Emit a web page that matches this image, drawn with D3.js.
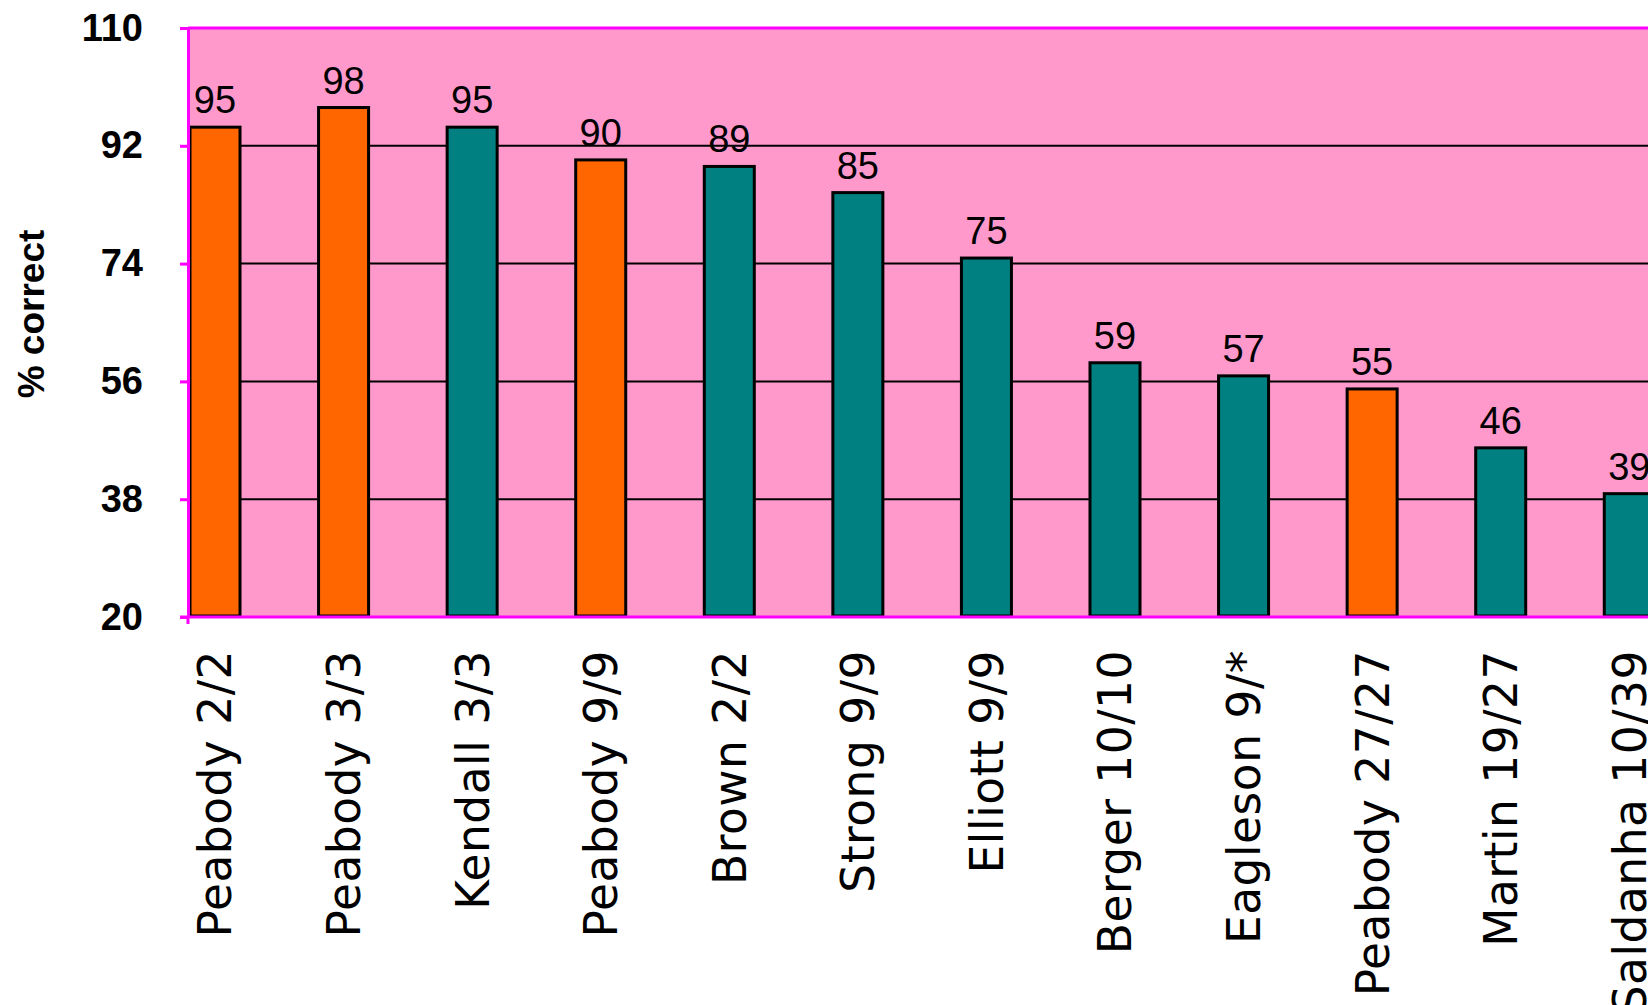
<!DOCTYPE html>
<html>
<head>
<meta charset="utf-8">
<script src="https://cdn.jsdelivr.net/npm/d3@7"></script>
<style>
  html, body { margin: 0; padding: 0; background: #ffffff; overflow: hidden; }
  svg { display: block; }
</style>
</head>
<body>
<svg id="chart" width="1648" height="1005"></svg>
<script>
// ---- data ----
const categories = ["Peabody 2/2", "Peabody 3/3", "Kendall 3/3", "Peabody 9/9", "Brown 2/2", "Strong 9/9",
                    "Elliott 9/9", "Berger 10/10", "Eagleson 9/*", "Peabody 27/27", "Martin 19/27", "Saldanha 10/39"];
const values = [95, 98, 95, 90, 89, 85, 75, 59, 57, 55, 46, 39];
const groups = ["Peabody", "Peabody", "Other", "Peabody", "Other", "Other",
                "Other", "Other", "Other", "Peabody", "Other", "Other"];
const yTicks = [20, 38, 56, 74, 92, 110];
const yTitle = "% correct";

// ---- layout ----
const W = 1648, H = 1005;
const plotLeft = 188, plotTop = 28, plotBottom = 617, plotRight = 1700;
const colorScale = d3.scaleOrdinal().domain(["Peabody", "Other"]).range(["#FF6600", "#008080"]);

const svg = d3.select("#chart");

const y = d3.scaleLinear().domain([20, 110]).range([plotBottom, plotTop]);
const x = d3.scaleBand().domain(categories)
  .range([190, 190 + 128.57 * (categories.length - 0.611)])
  .paddingInner(0.611).paddingOuter(0);

// plot background
svg.append("rect")
  .attr("x", plotLeft).attr("y", plotTop)
  .attr("width", plotRight - plotLeft).attr("height", plotBottom - plotTop)
  .attr("fill", "#FF99CC");

// gridlines
svg.append("g").selectAll("line")
  .data(yTicks.filter(t => t !== 20 && t !== 110))
  .join("line")
  .attr("x1", plotLeft).attr("x2", plotRight)
  .attr("y1", d => y(d)).attr("y2", d => y(d))
  .attr("stroke", "#000").attr("stroke-width", 2);

// top border
svg.append("line")
  .attr("x1", plotLeft).attr("x2", plotRight)
  .attr("y1", plotTop).attr("y2", plotTop)
  .attr("stroke", "#FF00FF").attr("stroke-width", 3);

// bars
svg.append("g").selectAll("rect")
  .data(values)
  .join("rect")
  .attr("x", (d, i) => x(categories[i]))
  .attr("y", d => y(d) + 1)
  .attr("width", x.bandwidth())
  .attr("height", d => plotBottom - y(d) - 2)
  .attr("fill", (d, i) => colorScale(groups[i]))
  .attr("stroke", "#000").attr("stroke-width", 3);

// value labels
svg.append("g").selectAll("text")
  .data(values)
  .join("text")
  .attr("x", (d, i) => x(categories[i]) + x.bandwidth() / 2)
  .attr("y", d => y(d) - 13)
  .attr("text-anchor", "middle")
  .attr("font-family", "'Liberation Sans', Arial, sans-serif")
  .attr("font-size", 38)
  .attr("fill", "#000")
  .text(d => d);

// bottom axis line
svg.append("line")
  .attr("x1", plotLeft - 8).attr("x2", plotRight)
  .attr("y1", plotBottom).attr("y2", plotBottom)
  .attr("stroke", "#FF00FF").attr("stroke-width", 3);
svg.append("line")
  .attr("x1", plotLeft).attr("x2", plotLeft)
  .attr("y1", plotBottom).attr("y2", plotBottom + 7)
  .attr("stroke", "#FF00FF").attr("stroke-width", 3);

// y axis
const yAxis = d3.axisLeft(y).tickValues(yTicks).tickSize(8).tickPadding(37).tickSizeOuter(0);
const gy = svg.append("g").attr("transform", `translate(${plotLeft},0)`).call(yAxis);
gy.select(".domain").attr("stroke", "#FF00FF").attr("stroke-width", 3);
gy.selectAll(".tick line").attr("stroke", "#FF00FF").attr("stroke-width", 3);
gy.selectAll(".tick text")
  .attr("font-family", "'Liberation Sans', Arial, sans-serif")
  .attr("font-weight", "bold")
  .attr("font-size", 38)
  .attr("fill", "#000");

// category labels
svg.append("g").selectAll("text")
  .data(categories)
  .join("text")
  .attr("transform", d => `translate(${x(d) + x.bandwidth() / 2},650) rotate(-90)`)
  .attr("dy", "0.36em")
  .attr("text-anchor", "end")
  .attr("font-family", "'DejaVu Sans', Verdana, sans-serif")
  .attr("font-size", 45.5)
  .attr("letter-spacing", 0.5)
  .attr("fill", "#000")
  .text(d => d);

// y title
svg.append("text")
  .attr("transform", "translate(31,314) rotate(-90)")
  .attr("dy", "0.35em")
  .attr("text-anchor", "middle")
  .attr("font-family", "'Liberation Sans', Arial, sans-serif")
  .attr("font-weight", "bold")
  .attr("font-size", 37)
  .attr("fill", "#000")
  .text(yTitle);
</script>
</body>
</html>
